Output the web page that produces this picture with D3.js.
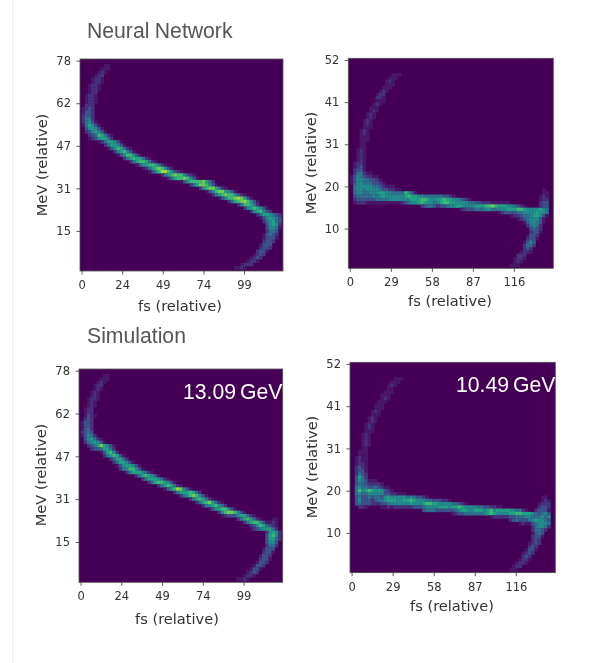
<!DOCTYPE html>
<html><head><meta charset="utf-8">
<style>html,body{margin:0;padding:0;background:#fff;overflow:hidden}svg{display:block}</style>
<script src="https://cdnjs.cloudflare.com/ajax/libs/d3/7.8.5/d3.min.js"></script>
</head><body>
<svg id="c" width="590" height="663"></svg>
<script>
// Each entry: [row, first column, intensity levels]
const nnLow=[[2,8,[1,1]],[3,7,[1,1,1]],[4,6,[1,2,1]],[5,5,[1,2,2]],[6,4,[1,2,2,1]],[7,4,[1,2,2,1]],[8,3,[1,2,2,1]],[9,3,[1,2,2,1]],[10,3,[1,2,2]],[11,2,[1,2,2,1]],[12,2,[1,2,2,1]],[13,2,[1,2,2,1]],[14,2,[2,2,2]],[15,1,[1,2,3,2]],[16,1,[1,3,3,2]],[17,1,[2,3,3,2]],[18,1,[2,4,4,2]],[19,1,[2,4,5,3,1]],[20,1,[1,4,6,5,3,1]],[21,2,[3,5,6,5,3,1]],[22,2,[2,3,5,6,5,3,1]],[23,3,[2,3,4,7,6,4,2,1]],[24,3,[1,2,3,5,6,6,4,2]],[25,6,[1,2,4,6,6,5,3,1]],[26,8,[2,4,6,6,5,3,1]],[27,9,[1,3,5,7,6,4,2,1]],[28,11,[2,5,6,7,5,3,1]],[29,12,[1,3,5,7,7,5,3,1]],[30,14,[2,4,6,7,6,6,4,2,1]],[31,16,[2,4,6,7,7,6,4,2,1]],[32,18,[1,3,5,6,7,7,6,4,2,1]],[33,20,[1,2,4,6,7,8,7,5,3,1]],[34,22,[1,3,5,7,9,9,7,5,3,2,1]],[35,26,[2,4,6,7,8,7,7,5,3,2,1]],[36,28,[2,4,6,7,7,8,7,5,3,1]],[37,32,[1,3,5,7,7,7,7,8,6,4,2]],[38,35,[2,4,6,8,8,7,5,3,1]],[39,38,[2,5,7,8,8,6,4,2,1]],[40,40,[1,3,5,7,8,8,6,5,3,1]],[41,42,[2,4,6,7,8,7,7,5,3,2,1]],[42,44,[1,3,5,7,7,8,9,8,6,3,1]],[43,47,[2,4,6,7,8,9,7,5,3,1]],[44,50,[2,4,7,7,6,4,2]],[45,52,[2,5,6,7,6,5,3,1]],[46,54,[2,5,6,7,5,3,2]],[47,56,[2,4,6,6,5,4,3,2]],[48,57,[1,3,5,6,5,4,3]],[49,58,[2,4,5,6,4,3]],[50,59,[3,5,6,5,2]],[51,59,[3,5,5,4,1]],[52,59,[2,4,4,3]],[53,58,[1,3,4,3,2]],[54,58,[1,3,3,3,1]],[55,58,[2,3,3,2]],[56,57,[1,3,3,3]],[57,57,[2,3,3,2]],[58,56,[2,3,3,1]],[59,55,[1,2,3,2]],[60,54,[1,2,3,2]],[61,53,[1,2,2,1]],[62,51,[1,2,2,2]],[63,49,[1,1,2,1]]];
const nnHigh=[[5,14,[1,1,1]],[6,13,[1,1,1]],[7,12,[1,2,1]],[8,12,[1,1,1]],[9,11,[1,1,1]],[10,10,[1,2,1]],[11,9,[1,2,2]],[12,9,[2,2,1]],[13,9,[1,1,1]],[14,8,[1,2,1]],[15,7,[1,1,1]],[16,7,[1,2,1]],[17,6,[1,2,1]],[18,6,[1,2,1]],[19,5,[1,2,1]],[20,5,[1,2,1]],[21,5,[1,1,1]],[22,4,[1,2,1]],[23,4,[1,2,1]],[24,4,[1,1,1]],[25,4,[1,1,1]],[26,4,[1,1]],[27,4,[1,1]],[28,3,[1,2,1]],[29,3,[1,2,1]],[30,3,[1,2,1]],[31,3,[1,2,1]],[32,2,[1,2,2,1]],[33,2,[1,2,3,1]],[34,2,[2,3,3,1]],[35,2,[2,4,4,2,1,1]],[36,1,[1,3,5,4,3,2,2,1,1]],[37,1,[1,3,5,5,4,4,3,3,2,1]],[38,1,[1,3,5,5,4,4,4,3,3,2,1]],[39,2,[4,5,5,5,5,5,4,4,3,2,1,1,1]],[40,2,[4,5,5,4,5,5,5,5,4,3,3,2,2,1,1]],[41,2,[4,5,5,4,4,5,5,5,6,6,5,5,4,4,4,4,7,5,3,1]],[42,2,[3,4,4,4,4,4,5,4,5,6,5,5,5,5,5,5,6,7,6,6,5,5,4,4,4,4,4,4,3,3,2,1]],[43,2,[2,3,3,3,3,3,3,4,4,4,4,5,5,5,5,5,5,5,6,6,6,7,7,6,5,5,6,6,7,6,6,5,5,4,3,2,1]],[44,2,[1,2,2,2,1,1,1,1,1,1,1,1,1,1,1,2,3,4,5,5,6,7,6,5,5,4,5,6,7,7,6,6,5,5,5,5,4,4,3,3,2,2,2,1,1,1,1,1,1]],[45,23,[2,3,4,4,3,2,3,3,4,5,5,6,6,5,5,5,5,6,6,6,7,7,8,7,6,6,6,5,5,4,3,2,1]],[46,35,[1,2,3,3,3,4,4,4,5,5,4,4,5,5,5,6,6,6,7,7,6,5,5,5,5,6,5,4]],[47,47,[1,2,3,3,3,3,4,4,5,5,5,5,6,5,5,4]],[48,51,[1,2,2,3,4,4,5,6,6,5,3,1]],[49,53,[1,2,3,4,5,5,5,3,1]],[50,55,[1,3,5,5,4,3,1]],[51,56,[2,4,5,4,2]],[52,57,[3,4,3,2]],[53,57,[2,3,3,1]],[54,56,[1,3,3,2]],[55,56,[2,3,3,1]],[56,55,[1,3,5,3]],[57,55,[2,4,4,2]],[58,55,[2,3,2]],[59,54,[1,2,2,1]],[60,53,[2,2,2]],[61,52,[1,2,2,1]],[62,52,[1,2,1]],[63,51,[1,1,1]],[40,61,[1]],[41,61,[1,1]],[42,60,[1,2,1]],[43,60,[1,2,2]],[44,60,[2,3,3]],[45,60,[2,3,3]]];
const simLow=[[2,8,[1,1]],[3,7,[1,1,1]],[4,6,[1,2,1]],[5,5,[1,2,2]],[6,5,[1,2,1]],[7,4,[1,2,1]],[8,4,[1,2,1]],[9,3,[1,2,2,1]],[10,3,[1,2,1]],[11,3,[1,2,1]],[12,2,[1,2,2]],[13,2,[1,2,2]],[14,2,[1,3,2,1]],[15,2,[2,3,2]],[16,1,[1,3,3,2]],[17,1,[1,3,3,2]],[18,1,[1,3,4,2]],[19,1,[2,3,4,3]],[20,1,[1,3,5,4,2]],[21,2,[3,5,6,4,2,1]],[22,2,[2,4,5,6,5,3,1]],[23,3,[2,3,4,6,8,6,5,3,1]],[24,4,[2,3,3,4,6,6,4,2]],[25,7,[1,3,6,7,5,2]],[26,8,[2,4,6,7,6,3,1]],[27,10,[2,4,6,6,4,2]],[28,11,[2,4,6,6,5,3,1]],[29,12,[1,3,5,6,6,5,3,1]],[30,13,[2,4,5,7,7,5,3,1]],[31,15,[2,4,6,6,6,5,4,2,1]],[32,18,[2,4,6,7,6,5,3,1]],[33,20,[2,4,6,6,6,5,4,2,1]],[34,22,[2,4,6,7,7,6,5,3,1]],[35,25,[2,4,6,7,6,4,2,1]],[36,27,[1,3,5,7,9,8,5,3,1]],[37,30,[2,4,6,6,6,7,6,4,2]],[38,32,[2,4,5,7,8,7,5,3,1]],[39,35,[2,4,6,7,6,4,2,1]],[40,37,[2,4,6,7,8,6,4,2,1]],[41,39,[2,4,5,6,7,5,4,2]],[42,41,[1,3,5,6,7,7,5,3,1]],[43,44,[2,5,7,8,8,7,5,3,1]],[44,45,[1,2,3,3,3,5,6,6,4,2,1]],[45,50,[2,4,6,7,6,4,2,1]],[46,52,[2,4,6,7,7,5,3,1]],[47,54,[2,3,5,7,6,4,3,2,1]],[48,54,[1,2,3,4,5,6,6,4,2]],[49,59,[2,5,6,5,2]],[50,59,[3,6,7,5,2]],[51,59,[3,6,6,4,2]],[52,59,[3,5,5,3]],[53,59,[2,4,4,2]],[54,58,[1,3,3,3]],[55,58,[2,3,3,1]],[56,57,[1,3,3,2]],[57,57,[2,3,3,1]],[58,56,[1,3,3,2]],[59,55,[1,3,3,2]],[60,54,[1,3,3,1]],[61,53,[1,2,3,2]],[62,52,[1,2,2,1]],[63,50,[1,1,2,1]],[45,61,[1,1]],[46,60,[1,2,1]]];
const simHigh=[[5,14,[1,1,1]],[6,13,[1,1,1]],[7,12,[1,2,1]],[8,12,[1,1]],[9,11,[1,1,1]],[10,10,[1,1,1]],[11,10,[1,2,1]],[12,9,[1,1,1]],[13,8,[1,1,1]],[14,8,[1,1,1]],[15,7,[1,2,1]],[16,7,[1,1,1]],[17,6,[1,2,1]],[18,6,[1,2,1]],[19,5,[1,2,1]],[20,5,[1,2,1]],[21,5,[1,1,1]],[22,4,[1,2,1]],[23,4,[1,2,1]],[24,4,[1,2,1]],[25,4,[1,2,1]],[26,4,[1,1]],[27,3,[1,1,1]],[28,3,[1,1,1]],[29,2,[1,2,1,1]],[30,2,[1,2,1,1]],[31,2,[1,2,2,1]],[32,2,[2,3,2,1]],[33,2,[2,3,3,1]],[34,2,[2,4,3,2]],[35,2,[3,6,4,2]],[36,2,[3,5,4,3,1,1,1]],[37,2,[3,4,4,3,2,2,2,2,1]],[38,2,[4,5,4,4,3,3,4,3,2,1,1]],[39,2,[4,7,5,6,7,6,5,6,5,3,2,1]],[40,2,[4,5,4,4,5,5,5,5,5,3,3,2,2,1,1,1]],[41,2,[3,4,3,3,4,3,4,4,3,5,6,5,5,5,5,5,4,5,4,3,3,2,1]],[42,2,[3,5,3,3,3,2,3,4,4,5,6,6,6,5,5,6,6,7,6,5,5,5,4,4,3,3,3,2,2,1]],[43,2,[3,4,3,3,3,2,2,2,3,3,4,5,5,5,5,5,5,6,5,5,5,6,7,7,6,6,5,5,5,5,4,4,3,2,1]],[44,3,[2,2,1,0,0,0,0,1,1,2,1,2,2,2,2,2,2,3,3,3,4,5,5,5,5,6,6,6,5,6,6,7,6,5,5,5,5,4,4,3,3,2,2,1,1]],[45,23,[3,4,4,4,3,3,3,3,3,3,4,5,6,6,5,5,6,6,6,5,6,7,5,6,6,6,6,5,5,4,4,2,1]],[46,32,[1,2,3,3,4,4,4,4,4,4,5,6,7,6,5,5,5,5,6,6,7,7,6,6,6,5,4,3,4,5,3]],[47,44,[1,2,2,2,2,2,3,3,4,4,4,5,5,4,4,4,5,4,5]],[48,50,[2,3,4,3,3,3,4,5,6,5,5,4,3]],[49,53,[1,2,1,1,3,4,5,5,5,4]],[50,57,[2,4,5,5,4,2]],[51,57,[2,4,4,3,2]],[52,57,[1,3,4,3]],[53,57,[2,3,3,1]],[54,57,[2,3,2]],[55,56,[1,2,3,2]],[56,56,[2,3,2]],[57,55,[1,3,3,1]],[58,54,[1,2,3,2]],[59,54,[2,3,2]],[60,53,[1,2,2,1]],[61,52,[1,2,2,1]],[62,51,[1,2,2]],[63,50,[1,1,1]],[41,60,[1,1]],[42,60,[1,2,1]],[43,59,[1,2,2,2]],[44,59,[2,3,3,2]],[45,58,[2,3,3,3,1]]];

const levelColourPos=[0,0.06,0.14,0.25,0.36,0.48,0.58,0.68,0.78,0.85];
const lowXTicks=[0,24,49,74,99];
const lowYTicks=[78,62,47,31,15];
const highXTicks=[0,29,58,87,116];
const highYTicks=[52,41,31,20,10];
const panelTitles=["Neural Network","Simulation"];
const energies=["13.09 GeV","10.49 GeV"];
const xLabel="fs (relative)", yLabel="MeV (relative)";

const panels=[
 {cells:nnLow,  xt:lowXTicks, yt:lowYTicks, xStep:24.9,yStep:15.6,box:[80,59,283,271],xl:[180,311],yl:[47,165]},
 {cells:nnHigh, xt:highXTicks,yt:highYTicks,xStep:29,  yStep:10.4,box:[348.3,58.3,553.3,268.3],xl:[450,306],yl:[316,163]},
 {cells:simLow, xt:lowXTicks, yt:lowYTicks, xStep:24.9,yStep:15.6,box:[79,369,282.7,582.3],xl:[177,624],yl:[46,475]},
 {cells:simHigh,xt:highXTicks,yt:highYTicks,xStep:29,  yStep:10.4,box:[350,362.3,555.3,572.7],xl:[452,611],yl:[317,467]}
];

const svg=d3.select("#c");
const defs=svg.append("defs");
defs.append("filter").attr("id","soft").attr("x","-5%").attr("y","-5%").attr("width","110%").attr("height","110%")
  .append("feGaussianBlur").attr("stdDeviation",0.6);
defs.append("filter").attr("id","softText").attr("x","-5%").attr("y","-5%").attr("width","110%").attr("height","110%")
  .append("feGaussianBlur").attr("stdDeviation",0.45);

svg.append("rect").attr("width",590).attr("height",663).attr("fill","#fff");
svg.append("line").attr("x1",12.5).attr("x2",12.5).attr("y1",0).attr("y2",663).attr("stroke","#f0f0f0");

const N=64;
const colour=v=>d3.interpolateViridis(levelColourPos[v]);

panels.forEach((p,i)=>{
  const [l,t,r,b]=p.box;
  const g=svg.append("g");
  const col=d3.scaleLinear().domain([0,N]).range([l,r]);
  const row=d3.scaleLinear().domain([0,N]).range([t,b]);
  const cw=(r-l)/N, ch=(b-t)/N;
  const xs=d3.scaleLinear().domain([0,p.xStep*(N/12.8)]).range([l+cw/2,l+cw/2+(r-l)]);
  const ys=d3.scaleLinear().domain([p.yt[0],p.yt[0]-p.yStep*(N/12.85)]).range([t+ch/2,t+ch/2+(b-t)]);
  const clipId="clip"+i;
  defs.append("clipPath").attr("id",clipId).append("rect").attr("x",l).attr("y",t).attr("width",r-l).attr("height",b-t);
  const img=g.append("g").attr("clip-path",`url(#${clipId})`).append("g").attr("filter","url(#soft)");
  img.append("rect").attr("x",l-4).attr("y",t-4).attr("width",r-l+8).attr("height",b-t+8).attr("fill",colour(0));
  const flat=p.cells.flatMap(([ro,c0,vals])=>vals.map((v,k)=>({ro,c:c0+k,v}))).filter(d=>d.c<N&&d.v>0);
  img.selectAll("rect.cell").data(flat).join("rect").attr("class","cell")
    .attr("x",d=>col(d.c-0.5)).attr("y",d=>row(d.ro-0.5)).attr("width",cw+0.3).attr("height",ch+0.3)
    .attr("fill",d=>colour(d.v));
  const txt=g.append("g").attr("filter","url(#softText)");
  txt.append("rect").attr("x",l).attr("y",t).attr("width",r-l).attr("height",b-t)
    .attr("fill","none").attr("stroke","#555").attr("stroke-width",0.8);
  const xPositions=p.xt.map((_,k)=>k*p.xStep);
  const xAxis=d3.axisBottom(xs).tickValues(xPositions).tickFormat((_,k)=>p.xt[k]).tickSize(3.5);
  const yPositions=p.yt.map((_,k)=>p.yt[0]-k*p.yStep);
  const yAxis=d3.axisLeft(ys).tickValues(yPositions).tickFormat((_,k)=>p.yt[k]).tickSize(3.5);
  const xg=txt.append("g").attr("transform",`translate(0,${b})`).call(xAxis);
  const yg=txt.append("g").attr("transform",`translate(${l},0)`).call(yAxis);
  [xg,yg].forEach(a=>{
    a.select(".domain").remove();
    a.selectAll("line").attr("stroke","#333").attr("stroke-width",0.8);
    a.selectAll("text").attr("fill","#333").style("font","11.5px 'DejaVu Sans'");
  });
  xg.selectAll("text").attr("dy","0.71em").attr("y",10);
  yg.selectAll("text").attr("x",-9);
  txt.append("text").attr("x",p.xl[0]).attr("y",p.xl[1])
    .attr("text-anchor","middle").attr("fill","#333").style("font","14.6px 'DejaVu Sans'").text(xLabel);
  txt.append("text").attr("transform",`translate(${p.yl[0]},${p.yl[1]}) rotate(-90)`)
    .attr("text-anchor","middle").attr("fill","#333").style("font","14.6px 'DejaVu Sans'").text(yLabel);
});

const ann=svg.append("g").attr("filter","url(#softText)").style("font-family","'Liberation Sans'");
ann.append("text").attr("x",87).attr("y",38).attr("fill","#555").attr("word-spacing",-0.5).style("font-size","21.2px").text(panelTitles[0]);
ann.append("text").attr("x",87).attr("y",343).attr("fill","#555").style("font-size","21.2px").text(panelTitles[1]);
ann.append("text").attr("x",183).attr("y",399).attr("fill","#fff").attr("word-spacing",-2).style("font-size","21.2px").text(energies[0]);
ann.append("text").attr("x",456).attr("y",392).attr("fill","#fff").attr("word-spacing",-2).style("font-size","21.2px").text(energies[1]);
</script>
</body></html>
